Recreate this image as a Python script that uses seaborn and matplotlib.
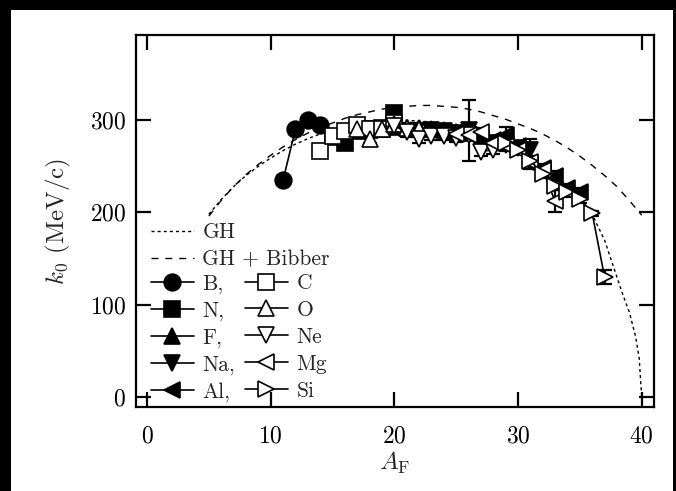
import matplotlib
matplotlib.use("Agg")
import matplotlib.pyplot as plt
from matplotlib.lines import Line2D
from matplotlib.patches import Rectangle
import seaborn as sns
import pandas as pd

# Theoretical curves: Goldhaber (GH) and GH with the Bibber correction
curve_a = [5, 6, 7, 8, 9, 10, 11, 12, 13, 14, 15, 16, 17, 18, 19, 20, 21, 22,
           23, 24, 25, 26, 27, 28, 29, 30, 31, 32, 33, 34, 35, 36, 37, 38,
           38.5, 39, 39.5, 39.8, 40]
gh_k = [198, 214, 228, 240, 250, 259, 267, 274, 280, 285, 289, 293, 296, 298,
        299, 300, 300, 299, 298, 296, 293, 289, 285, 280, 274, 267, 259, 250,
        240, 228, 214, 198, 170, 130, 110, 92, 66, 42, 0]
bibber_a = [5, 6, 7, 8, 9, 10, 11, 12, 13, 14, 15, 16, 17, 18, 19, 20, 21, 22,
            23, 24, 25, 26, 27, 28, 29, 30, 31, 32, 33, 34, 35, 36, 37, 38, 39, 40]
bibber_k = [196, 213, 228, 241, 252, 262, 271, 279, 286, 292, 297, 302, 306,
            309, 312, 314, 315, 316, 316, 315, 314, 312, 309, 305, 301, 296,
            291, 285, 278, 270, 261, 251, 240, 228, 213, 197]

# Measured momentum widths per fragment element
b_a, b_k, b_e = [11, 12, 13, 14], [235, 290, 300, 295], [5, 5, 5, 5]
c_a = [14, 15, 16, 17, 18, 19, 20]
c_k = [267, 283, 288, 295, 291, 290, 297]
c_e = [6, 5, 5, 5, 5, 5, 5]
n_a = [15, 16, 17, 18, 19, 20]
n_k = [282, 275, 288, 290, 292, 308]
n_e = [5, 5, 5, 5, 5, 5]
o_a = [17, 18, 19, 20, 21, 22]
o_k = [290, 280, 291, 296, 292, 290]
o_e = [5, 5, 5, 5, 5, 5]
f_a = [18, 19, 20, 21, 22, 23, 24, 25, 26]
f_k = [289, 291, 293, 292, 292, 291, 289, 287, 286]
f_e = [5, 5, 5, 5, 5, 5, 5, 5, 5]
ne_a = [20, 21, 22, 23, 24, 25, 26, 27, 28]
ne_k = [294, 287, 280, 283, 283, 281, 284, 266, 268]
ne_e = [5, 5, 5, 5, 5, 5, 5, 5, 5]
na_a = [23, 24, 25, 26, 27, 28, 29, 30, 31]
na_k = [289, 288, 286, 289, 278, 275, 273, 270, 268]
na_e = [5, 5, 5, 33, 5, 5, 5, 5, 12]
mg_a = [25, 26, 27, 28, 29, 30, 31, 32, 33]
mg_k = [285, 284, 287, 275, 272, 268, 255, 246, 212]
mg_e = [5, 5, 5, 5, 5, 5, 5, 5, 12]
al_a = [27, 28, 29, 30, 31, 32, 33, 34, 35]
al_k = [280, 278, 284, 272, 252, 248, 240, 226, 222]
al_e = [5, 5, 9, 5, 5, 5, 5, 5, 5]
si_a = [29, 30, 31, 32, 33, 34, 35, 36, 37]
si_k = [275, 268, 256, 242, 229, 222, 215, 199, 130]
si_e = [5, 5, 5, 5, 5, 5, 5, 3, 8]

elements = ["B", "N", "F", "Na", "Al", "C", "O", "Ne", "Mg", "Si"]
series = {
    "B": (b_a, b_k, b_e), "C": (c_a, c_k, c_e), "N": (n_a, n_k, n_e),
    "O": (o_a, o_k, o_e), "F": (f_a, f_k, f_e), "Ne": (ne_a, ne_k, ne_e),
    "Na": (na_a, na_k, na_e), "Mg": (mg_a, mg_k, mg_e),
    "Al": (al_a, al_k, al_e), "Si": (si_a, si_k, si_e),
}
styles = {
    "B": ("o", True, 12), "N": ("s", True, 11), "F": ("^", True, 12),
    "Na": ("v", True, 12), "Al": ("<", True, 12),
    "C": ("s", False, 11), "O": ("^", False, 12), "Ne": ("v", False, 12),
    "Mg": ("<", False, 12), "Si": (">", False, 12),
}

sns.set_theme(style="ticks")
plt.rcParams.update({
    "font.family": "serif",
    "font.serif": ["cmr10"],
    "mathtext.fontset": "cm",
    "axes.formatter.use_mathtext": True,
    "axes.unicode_minus": False,
})

fig = plt.figure(figsize=(6.76, 4.91), dpi=100)
fig.patch.set_facecolor("black")
fig.add_artist(Rectangle((11 / 676, 0), (673 - 11) / 676, 481 / 491,
                         transform=fig.transFigure, facecolor="white",
                         edgecolor="none", zorder=-10))
ax = fig.add_axes([0.201, 0.171, 0.7665, 0.757])
ax.set_facecolor("white")

gh_df = pd.DataFrame({"A": curve_a, "k": gh_k})
bb_df = pd.DataFrame({"A": bibber_a, "k": bibber_k})
sns.lineplot(data=gh_df, x="A", y="k", ax=ax, color="black", lw=1.0,
             linestyle=(0, (2.2, 2.2)), sort=False, zorder=2)
sns.lineplot(data=bb_df, x="A", y="k", ax=ax, color="black", lw=1.0,
             linestyle=(0, (5, 5)), sort=False, zorder=2)

for name in elements:
    a, k, e = series[name]
    marker, filled, ms = styles[name]
    df = pd.DataFrame({"A": a, "k": k})
    ax.errorbar(a, k, yerr=e, fmt="none", ecolor="black", elinewidth=1.6,
                capsize=5, capthick=1.6, zorder=3)
    sns.lineplot(data=df, x="A", y="k", ax=ax, color="black", lw=1.2,
                 marker=marker, markersize=ms,
                 markerfacecolor="black" if filled else "white",
                 markeredgecolor="black", markeredgewidth=1.2, zorder=4)

ax.set_xlim(-0.9, 41)
ax.set_ylim(-11, 392)
ax.set_xticks([0, 10, 20, 30, 40])
ax.set_yticks([0, 100, 200, 300])
ax.tick_params(direction="in", length=11, width=1.6, top=True, right=True,
               labelsize=17, colors="black")
ax.tick_params(axis="x", pad=13)
ax.tick_params(axis="y", pad=7)
for sp in ax.spines.values():
    sp.set_linewidth(1.6)
    sp.set_color("black")
ax.set_xlabel(r"$A_{\rm F}$", fontsize=18, labelpad=2)
ax.set_ylabel(r"$k_0$ (MeV/c)", fontsize=18, labelpad=12)

# Legend: theory curves on top, fragment elements in two columns below
curve_handles = [
    Line2D([0], [0], color="black", lw=1.0, linestyle=(0, (2.2, 2.2))),
    Line2D([0], [0], color="black", lw=1.0, linestyle=(0, (5, 5))),
]
leg1 = ax.legend(curve_handles, ["GH", "GH + Bibber"], loc="upper left",
                 bbox_to_anchor=(0.012, 0.519), frameon=False, fontsize=15.5,
                 handlelength=2.0, handletextpad=0.4, labelspacing=0.34,
                 borderaxespad=0.0)
ax.add_artist(leg1)

el_handles, el_labels = [], []
for name in elements:
    marker, filled, ms = styles[name]
    el_handles.append(Line2D([0], [0], color="black", lw=1.2, marker=marker,
                             markersize=ms,
                             markerfacecolor="black" if filled else "white",
                             markeredgecolor="black", markeredgewidth=1.2))
    el_labels.append(name + "," if name in ["B", "N", "F", "Na", "Al"] else name)
ax.legend(el_handles, el_labels, loc="upper left", ncol=2,
          bbox_to_anchor=(0.012, 0.382), frameon=False, fontsize=15.5,
          handlelength=2.0, handletextpad=0.4, labelspacing=0.34,
          columnspacing=0.45, borderaxespad=0.0)

fig.savefig("out.png", dpi=100, facecolor=fig.get_facecolor())
